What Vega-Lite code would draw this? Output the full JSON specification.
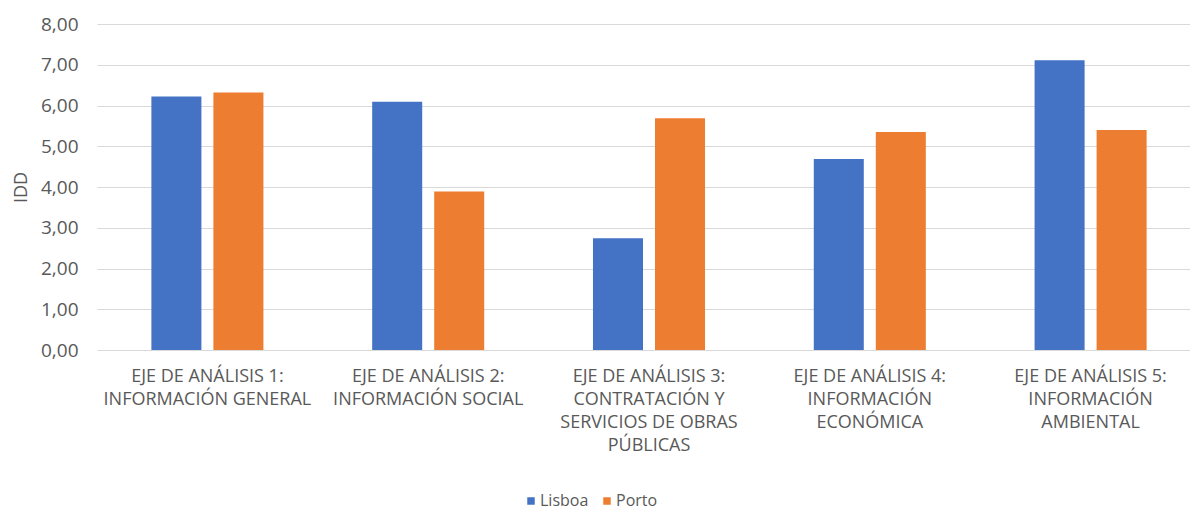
{
  "$schema": "https://vega.github.io/schema/vega-lite/v6.json",
  "width": 1093,
  "height": 326,
  "autosize": "none",
  "padding": {"left": 97, "top": 24, "right": 0, "bottom": 161},
  "background": "white",
  "data": {
    "values": [
      {"eje": "EJE DE ANÁLISIS 1:|INFORMACIÓN GENERAL", "ciudad": "Lisboa", "idd": 6.22},
      {"eje": "EJE DE ANÁLISIS 1:|INFORMACIÓN GENERAL", "ciudad": "Porto", "idd": 6.32},
      {"eje": "EJE DE ANÁLISIS 2:|INFORMACIÓN SOCIAL", "ciudad": "Lisboa", "idd": 6.09},
      {"eje": "EJE DE ANÁLISIS 2:|INFORMACIÓN SOCIAL", "ciudad": "Porto", "idd": 3.89},
      {"eje": "EJE DE ANÁLISIS 3:|CONTRATACIÓN Y|SERVICIOS DE OBRAS|PÚBLICAS", "ciudad": "Lisboa", "idd": 2.74},
      {"eje": "EJE DE ANÁLISIS 3:|CONTRATACIÓN Y|SERVICIOS DE OBRAS|PÚBLICAS", "ciudad": "Porto", "idd": 5.69},
      {"eje": "EJE DE ANÁLISIS 4:|INFORMACIÓN|ECONÓMICA", "ciudad": "Lisboa", "idd": 4.69},
      {"eje": "EJE DE ANÁLISIS 4:|INFORMACIÓN|ECONÓMICA", "ciudad": "Porto", "idd": 5.35},
      {"eje": "EJE DE ANÁLISIS 5:|INFORMACIÓN|AMBIENTAL", "ciudad": "Lisboa", "idd": 7.11},
      {"eje": "EJE DE ANÁLISIS 5:|INFORMACIÓN|AMBIENTAL", "ciudad": "Porto", "idd": 5.40}
    ]
  },
  "mark": {"type": "bar"},
  "encoding": {
    "x": {
      "field": "eje",
      "type": "nominal",
      "sort": null,
      "scale": {"range": [0, 1104], "paddingInner": 0.4926, "paddingOuter": 0.2463},
      "axis": {
        "title": null,
        "labelExpr": "split(datum.label, '|')",
        "labelAngle": 0,
        "labelLimit": 0,
        "labelLineHeight": 23,
        "labelPadding": 17,
        "labelBaseline": "top",
        "labelFont": "Open Sans",
        "labelFontSize": 18,
        "labelColor": "#595959",
        "ticks": false,
        "domain": false,
        "grid": false
      }
    },
    "xOffset": {
      "field": "ciudad",
      "type": "nominal",
      "sort": ["Lisboa", "Porto"],
      "scale": {"paddingInner": 0.1935, "paddingOuter": 0}
    },
    "y": {
      "field": "idd",
      "type": "quantitative",
      "scale": {"domain": [0, 8], "nice": false},
      "axis": {
        "title": "IDD",
        "titleFont": "Open Sans",
        "titleFontSize": 18,
        "titleFontWeight": "normal",
        "titleColor": "#595959",
        "titlePadding": 10,
        "values": [0, 1, 2, 3, 4, 5, 6, 7, 8],
        "labelExpr": "replace(format(datum.value, '.2f'), '.', ',')",
        "labelFont": "Open Sans",
        "labelFontSize": 19,
        "labelColor": "#595959",
        "labelPadding": 19,
        "ticks": false,
        "domain": false,
        "grid": true,
        "gridColor": "#D9D9D9",
        "gridWidth": 1
      }
    },
    "color": {
      "field": "ciudad",
      "type": "nominal",
      "sort": ["Lisboa", "Porto"],
      "scale": {"domain": ["Lisboa", "Porto"], "range": ["#4472C4", "#ED7D31"]},
      "legend": {
        "title": null,
        "orient": "none",
        "legendX": 426,
        "legendY": 469,
        "direction": "horizontal",
        "symbolType": "square",
        "symbolSize": 56,
        "symbolStrokeWidth": 0,
        "labelFont": "Open Sans",
        "labelFontSize": 16,
        "labelColor": "#595959",
        "labelOffset": 1,
        "columnPadding": 10
      }
    }
  },
  "config": {
    "view": {"stroke": null}
  }
}
